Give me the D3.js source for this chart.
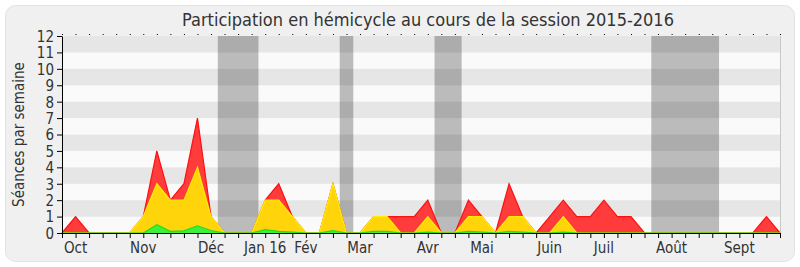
<!DOCTYPE html>
<html>
<head>
<meta charset="utf-8">
<script src="https://cdn.jsdelivr.net/npm/d3@7"></script>
<style>
  body { margin: 0; background: #fff; }
  svg text { font-family: "DejaVu Sans Condensed", "DejaVu Sans", sans-serif; font-stretch: condensed; fill: #333; }
</style>
</head>
<body>
<div id="chart"></div>
<script>
var margin = { top: 36, right: 20, bottom: 34, left: 62 };
var W = 800, H = 267;
var width = W - margin.left - margin.right;
var height = H - margin.top - margin.bottom;

// one value per week, from the last week of Sept 2015
var presences = [0, 1, 0, 0, 0, 0, 1, 5, 2, 3, 7, 1, 0, 0, 0, 2, 3, 1, 0, 0,
  3, 0, 0, 1, 1, 1, 1, 2, 0, 0, 2, 1, 0, 3, 1, 0, 1, 2, 1, 1,
  2, 1, 1, 0, 0, 0, 0, 0, 0, 0, 0, 0, 1, 0];
var interventions = [0, 0, 0, 0, 0, 0, 1, 3, 2, 2, 4, 1, 0, 0, 0, 2, 2, 1, 0, 0,
  3, 0, 0, 1, 1, 0, 0, 1, 0, 0, 1, 1, 0, 1, 1, 0, 0, 1, 0, 0,
  0, 0, 0, 0, 0, 0, 0, 0, 0, 0, 0, 0, 0, 0];
var questions = [0, 0, 0, 0, 0, 0, 0, 0.5, 0.1, 0.13, 0.44, 0.15, 0, 0, 0, 0.2, 0.1, 0.05, 0, 0,
  0.15, 0, 0, 0.1, 0.1, 0, 0, 0.05, 0, 0, 0.1, 0.05, 0, 0.1, 0.05, 0, 0, 0.05, 0, 0,
  0, 0, 0, 0, 0, 0, 0, 0, 0, 0, 0, 0, 0, 0];
var monthLabels = ['Oct', 'Nov', 'Déc', 'Jan 16', 'Fév', 'Mar', 'Avr', 'Mai', 'Juin', 'Juil', 'Août', 'Sept'];
var monthWeeks = [1, 6, 11, 15, 18, 22, 27, 31, 36, 40, 45, 50];
var vacances = [[11.5, 14.5], [20.5, 21.5], [27.5, 29.5], [43.5, 48.5]];
var yTicks = d3.range(0, 13);

var svg = d3.select('#chart')
  .append('svg')
    .attr('width', W)
    .attr('height', H);

svg.append('rect')
  .attr('x', 5.5).attr('y', 5.5)
  .attr('width', W - 11).attr('height', H - 11)
  .attr('rx', 10)
  .style('fill', '#f0f0f0')
  .style('stroke', '#e2e2e2');

svg.append('text')
  .attr('x', margin.left + width / 2 + 7)
  .attr('y', 26)
  .attr('text-anchor', 'middle')
  .style('font-size', '18px')
  .text('Participation en hémicycle au cours de la session 2015-2016');

var g = svg.append('g')
  .attr('transform', `translate(${margin.left}, ${margin.top})`);

var x = d3.scaleLinear().domain([0, presences.length - 1]).range([0, width]);
var y = d3.scaleLinear().domain([0, 12]).range([height, 0]);

// stripes
g.selectAll('.stripe')
  .data(d3.range(0, 12))
  .enter()
    .append('rect')
    .attr('x', 0)
    .attr('width', width)
    .attr('y', d => y(d + 1))
    .attr('height', d => y(d) - y(d + 1))
    .style('fill', d => d % 2 ? '#e6e6e6' : '#fafafa');

g.append('line')
  .attr('x1', width + 0.5).attr('x2', width + 0.5)
  .attr('y1', 0).attr('y2', height)
  .style('stroke', '#c8c8c8');

// holidays
g.selectAll('.vac')
  .data(vacances)
  .enter()
    .append('rect')
    .attr('x', d => x(d[0]))
    .attr('width', d => x(d[1]) - x(d[0]))
    .attr('y', 0)
    .attr('height', height)
    .style('fill', 'rgba(0,0,0,0.25)');

function area (vals) {
  return d3.area()
    .x((d, i) => x(i))
    .y0(y(0))
    .y1(d => y(d))(vals);
}
function line (vals) {
  return d3.line()
    .x((d, i) => x(i))
    .y(d => y(d))(vals);
}

var series = [
  { vals: presences, fill: '#ff3b3b', stroke: '#ff1010' },
  { vals: interventions, fill: '#ffd40a', stroke: '#ffee00' },
  { vals: questions, fill: '#3cf03c', stroke: '#22dd22' }
];
series.forEach(s => {
  g.append('path').attr('d', area(s.vals)).style('fill', s.fill);
  g.append('path').attr('d', line(s.vals))
    .style('fill', 'none').style('stroke', s.stroke).style('stroke-width', 1.2);
});

// axes
var yAxis = g.append('g')
  .call(d3.axisLeft(y).tickValues(yTicks).tickSize(5).tickSizeOuter(0));
yAxis.selectAll('text').style('font-size', '15px').attr('dy', '0.36em');

var weeks = d3.range(0, presences.length);
var xAxis = g.append('g')
  .attr('transform', `translate(0, ${height})`)
  .call(d3.axisBottom(x).tickValues(weeks).tickSize(5).tickSizeOuter(0).tickFormat(''));

g.selectAll('.month')
  .data(monthLabels)
  .enter()
    .append('text')
    .attr('x', (d, i) => x(monthWeeks[i]))
    .attr('y', height + 20)
    .attr('text-anchor', 'middle')
    .style('font-size', '15px')
    .text(d => d);

var topAxis = g.append('g')
  .attr('transform', 'translate(0, -1)')
  .call(d3.axisTop(x).tickValues(weeks).tickSize(1).tickSizeOuter(0).tickFormat(''));
topAxis.select('.domain').remove();

g.selectAll('.domain, .tick line').style('stroke', '#000');

svg.append('text')
  .attr('transform', `translate(24, ${margin.top + height / 2}) rotate(-90)`)
  .attr('text-anchor', 'middle')
  .style('font-size', '15px')
  .text('Séances par semaine');
</script>
</body>
</html>
